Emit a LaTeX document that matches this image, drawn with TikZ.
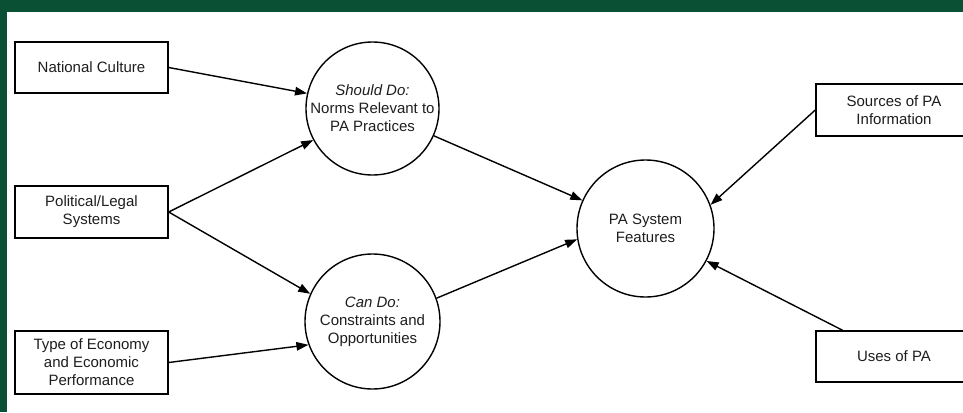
\documentclass[tikz,border=0pt]{standalone}
\usepackage{fontspec}
\setmainfont{Liberation Sans}
\usetikzlibrary{arrows.meta}
\definecolor{bandgreen}{RGB}{10,80,52}
\definecolor{ink}{RGB}{30,30,30}
\tikzset{
  factor/.style={draw=black, line width=1.4pt, fill=white, inner sep=0pt,
    minimum width=153pt, align=center, text=ink,
    font=\fontsize{15}{18}\selectfont},
  concept/.style={draw=black, line width=1.4pt, fill=white, circle, inner sep=0pt,
    align=center, text=ink, font=\fontsize{15}{18}\selectfont},
  link/.style={line width=1.4pt, -{Triangle[length=12pt,width=8.5pt]}}
}
\begin{document}
\begin{tikzpicture}[x=1pt,y=-1pt]
  \useasboundingbox (0,0) rectangle (963,412);
  \clip (0,0) rectangle (963,412);
  \fill[white] (0,0) rectangle (963,412);
  % frame bands
  \fill[bandgreen] (0,0) rectangle (963,12);
  \fill[bandgreen] (0,0) rectangle (7,412);

  % left-hand factors
  \node[factor, minimum height=51pt] (culture) at (91.5,67.5) {National Culture};
  \node[factor, minimum height=52pt] (legal) at (91.5,212) {Political/Legal\\Systems};
  \node[factor, minimum height=63pt] (economy) at (91.5,362.5) {Type of Economy\\and Economic\\Performance};

  % middle concepts
  \node[concept, minimum size=133pt] (should) at (372.5,108.5)
    {\textit{Should Do:}\\Norms Relevant to\\PA Practices};
  \node[concept, minimum size=135pt] (can) at (372.5,321.5)
    {\textit{Can Do:}\\Constraints and\\Opportunities};
  \node[concept, minimum size=137pt] (pa) at (645.5,228.5)
    {PA System\\Features};

  % right-hand factors
  \node[factor, minimum width=156pt, minimum height=52pt] (sources) at (894,110)
    {Sources of PA\\Information};
  \node[factor, minimum width=156pt, minimum height=51pt] (uses) at (894,356.5)
    {Uses of PA};

  % connectors
  \draw[link] (culture.east) -- (should.167);
  \draw[link] (legal.east) -- (should.208);
  \draw[link] (legal.east) -- (can.156);
  \draw[link] (economy.east) -- (can.200);
  \draw[link] (should.336) -- (pa.156);
  \draw[link] (can.20) -- (pa.189);
  \draw[link] (sources.west) -- (pa.20);
  \draw[link] (uses) -- (pa.332);
\end{tikzpicture}
\end{document}
